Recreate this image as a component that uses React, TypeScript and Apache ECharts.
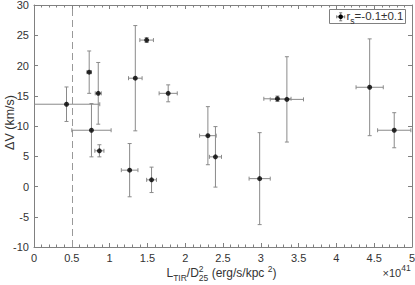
import React, { useEffect, useRef } from 'react';
import * as echarts from 'echarts';

// ---- data ----
const xValues = [0.43, 0.73, 0.85, 0.76, 0.865, 1.265, 1.555, 1.34, 1.49, 1.775, 2.3, 2.4, 2.985, 3.22, 3.345, 4.44, 4.765];
const yValues = [13.6, 18.9, 15.4, 9.3, 5.9, 2.7, 1.1, 17.9, 24.2, 15.4, 8.4, 4.9, 1.3, 14.5, 14.4, 16.4, 9.3];
const xErrors = [0.44, 0.03, 0.04, 0.26, 0.06, 0.11, 0.065, 0.09, 0.09, 0.12, 0.11, 0.08, 0.14, 0.18, 0.22, 0.18, 0.22];
const yErrors = [2.85, 3.5, 5.1, 4.4, 1.0, 4.4, 2.1, 8.7, 0.4, 1.4, 4.8, 5.0, 7.6, 0.45, 7.05, 8.0, 2.9];
const xMin = 0;
const xMax = 5;
const xInterval = 0.5;
const yMin = -10;
const yMax = 30;
const yInterval = 5;
const thresholdX = 0.5;
const yAxisTitle = 'ΔV (km/s)';
const legendMain = 'r';
const legendSub = 's';
const legendRest = '=-0.1±0.1';

const FONT = '"Liberation Sans", Arial, Helvetica, sans-serif';
const AXIS = '#808080';
const ERR = '#8a8a8a';
const TXT = '#333';

type Piece = { t: string; size: number; dy: number; stack?: boolean };

function measure(t: string, size: number): number {
  const c = document.createElement('canvas').getContext('2d');
  if (!c) return t.length * size * 0.55;
  c.font = `${size}px "Liberation Sans", Arial, sans-serif`;
  return c.measureText(t).width;
}

function layoutText(pieces: Piece[], x0: number, baseY: number, z: number = 0): any[] {
  const out: any[] = [];
  let x = x0;
  let stackW = 0;
  for (let i = 0; i < pieces.length; i++) {
    const p = pieces[i];
    const w = measure(p.t, p.size);
    out.push({
      type: 'text',
      x,
      y: baseY + p.dy,
      z,
      style: {
        text: p.t,
        fontSize: p.size,
        fontFamily: FONT,
        fill: TXT,
        align: 'left',
        verticalAlign: 'bottom',
      },
      silent: true,
    });
    if (p.stack) {
      stackW = Math.max(stackW, w);
    } else {
      x += Math.max(stackW, w);
      stackW = 0;
    }
  }
  return out;
}

export default function App() {
  const ref = useRef<HTMLDivElement>(null);

  useEffect(() => {
    if (!ref.current) return;
    const chart = echarts.init(ref.current, undefined, { renderer: 'svg' });

    const errData = xValues.map((x, i) => [x, yValues[i], xErrors[i], yErrors[i]]);
    const ptData = xValues.map((x, i) => [x, yValues[i]]);

    const xLabelPieces: Piece[] = [
      { t: 'L', size: 12, dy: 0 },
      { t: 'TIR', size: 8.5, dy: 3.5 },
      { t: '/D', size: 12, dy: 0 },
      { t: '2', size: 8.5, dy: -5.5, stack: true },
      { t: '25', size: 8.5, dy: 3.5 },
      { t: ' (erg/s/kpc ', size: 12, dy: 0 },
      { t: '2', size: 8.5, dy: -5.5 },
      { t: ')', size: 12, dy: 0 },
    ];
    const expPieces: Piece[] = [
      { t: '×10', size: 11, dy: 0 },
      { t: '41', size: 8.5, dy: -5.5 },
    ];
    const legPieces: Piece[] = [
      { t: legendMain, size: 11.5, dy: 0 },
      { t: legendSub, size: 8.5, dy: 3.5 },
      { t: legendRest, size: 11.5, dy: 0 },
    ];

    const axisCommon = {
      type: 'value' as const,
      splitLine: { show: false },
      axisLine: { show: true, onZero: false, lineStyle: { color: AXIS, width: 1 } },
    };

    const icx = 340.7;
    const icy = 16.8;
    const eStyle = { stroke: '#777', lineWidth: 1 };
    const icon = (shape: any) => ({ type: 'line', shape, style: eStyle, z: 11, silent: true });

    const option: any = {
      animation: false,
      textStyle: { fontFamily: FONT },
      grid: { left: 34, right: 3, top: 5, bottom: 38, containLabel: false, outerBoundsMode: 'none' },
      xAxis: [
        {
          ...axisCommon,
          position: 'bottom',
          min: xMin,
          max: xMax,
          interval: xInterval,
          axisTick: { show: true, inside: true, length: 4, lineStyle: { color: AXIS } },
          minorTick: { show: true, splitNumber: 5, length: 2.5, lineStyle: { color: AXIS } },
          axisLabel: { color: TXT, fontSize: 11, margin: 5, fontFamily: FONT, hideOverlap: false },
        },
        {
          ...axisCommon,
          position: 'top',
          min: xMin,
          max: xMax,
          interval: xInterval,
          axisTick: { show: true, inside: true, length: 4, lineStyle: { color: AXIS } },
          minorTick: { show: true, splitNumber: 5, length: 2.5, lineStyle: { color: AXIS } },
          axisLabel: { show: false },
        },
      ],
      yAxis: [
        {
          ...axisCommon,
          position: 'left',
          min: yMin,
          max: yMax,
          interval: yInterval,
          axisTick: { show: true, inside: true, length: 4, lineStyle: { color: AXIS } },
          axisLabel: { color: TXT, fontSize: 11, margin: 5, fontFamily: FONT },
        },
        {
          ...axisCommon,
          position: 'right',
          min: yMin,
          max: yMax,
          interval: yInterval,
          axisTick: { show: true, inside: true, length: 4, lineStyle: { color: AXIS } },
          axisLabel: { show: false },
        },
      ],
      series: [
        {
          type: 'custom',
          xAxisIndex: 0,
          yAxisIndex: 0,
          clip: true,
          data: errData,
          encode: { x: 0, y: 1 },
          silent: true,
          z: 2,
          renderItem: (params: any, api: any) => {
            const x = api.value(0);
            const y = api.value(1);
            const xe = api.value(2);
            const ye = api.value(3);
            const l = api.coord([x - xe, y]);
            const r = api.coord([x + xe, y]);
            const t = api.coord([x, y + ye]);
            const b = api.coord([x, y - ye]);
            const cap = 2;
            const style = { stroke: ERR, lineWidth: 1, fill: 'none' };
            const ln = (x1: number, y1: number, x2: number, y2: number) => ({
              type: 'line',
              shape: { x1, y1, x2, y2 },
              style,
            });
            return {
              type: 'group',
              children: [
                ln(l[0], l[1], r[0], r[1]),
                ln(l[0], l[1] - cap, l[0], l[1] + cap),
                ln(r[0], r[1] - cap, r[0], r[1] + cap),
                ln(t[0], t[1], b[0], b[1]),
                ln(t[0] - cap, t[1], t[0] + cap, t[1]),
                ln(b[0] - cap, b[1], b[0] + cap, b[1]),
              ],
            };
          },
        },
        {
          type: 'scatter',
          xAxisIndex: 0,
          yAxisIndex: 0,
          data: ptData,
          symbol: 'circle',
          symbolSize: 5,
          itemStyle: { color: '#000' },
          z: 3,
          silent: true,
          markLine: {
            silent: true,
            symbol: 'none',
            label: { show: false },
            lineStyle: { type: [7, 4], color: '#999', width: 1 },
            data: [{ xAxis: thresholdX }],
            z: 1,
          },
        },
      ],
      graphic: [
        {
          type: 'text',
          x: 10,
          y: 122.5,
          rotation: Math.PI / 2,
          silent: true,
          style: {
            text: yAxisTitle,
            fontSize: 12.5,
            fontFamily: FONT,
            fill: TXT,
            align: 'center',
            verticalAlign: 'middle',
          },
        },
        ...layoutText(xLabelPieces, 166.5, 279),
        ...layoutText(expPieces, 382.5, 278),
        {
          type: 'rect',
          shape: { x: 329.5, y: 9.5, width: 76, height: 14 },
          style: { fill: '#fff', stroke: AXIS, lineWidth: 1 },
          silent: true,
          z: 10,
        },
        icon({ x1: icx - 4, y1: icy, x2: icx + 4, y2: icy }),
        icon({ x1: icx - 4, y1: icy - 1.5, x2: icx - 4, y2: icy + 1.5 }),
        icon({ x1: icx + 4, y1: icy - 1.5, x2: icx + 4, y2: icy + 1.5 }),
        icon({ x1: icx, y1: icy - 4, x2: icx, y2: icy + 4 }),
        icon({ x1: icx - 1.5, y1: icy - 4, x2: icx + 1.5, y2: icy - 4 }),
        icon({ x1: icx - 1.5, y1: icy + 4, x2: icx + 1.5, y2: icy + 4 }),
        { type: 'circle', shape: { cx: icx, cy: icy, r: 2.3 }, style: { fill: '#000' }, z: 12, silent: true },
        ...layoutText(legPieces, 346.5, 21.5, 12),
      ],
    };

    chart.setOption(option);
    return () => chart.dispose();
  }, []);

  return (
    <div
      ref={ref}
      style={{ position: 'fixed', left: 0, top: 0, width: 415, height: 285, background: '#fff' }}
    />
  );
}
